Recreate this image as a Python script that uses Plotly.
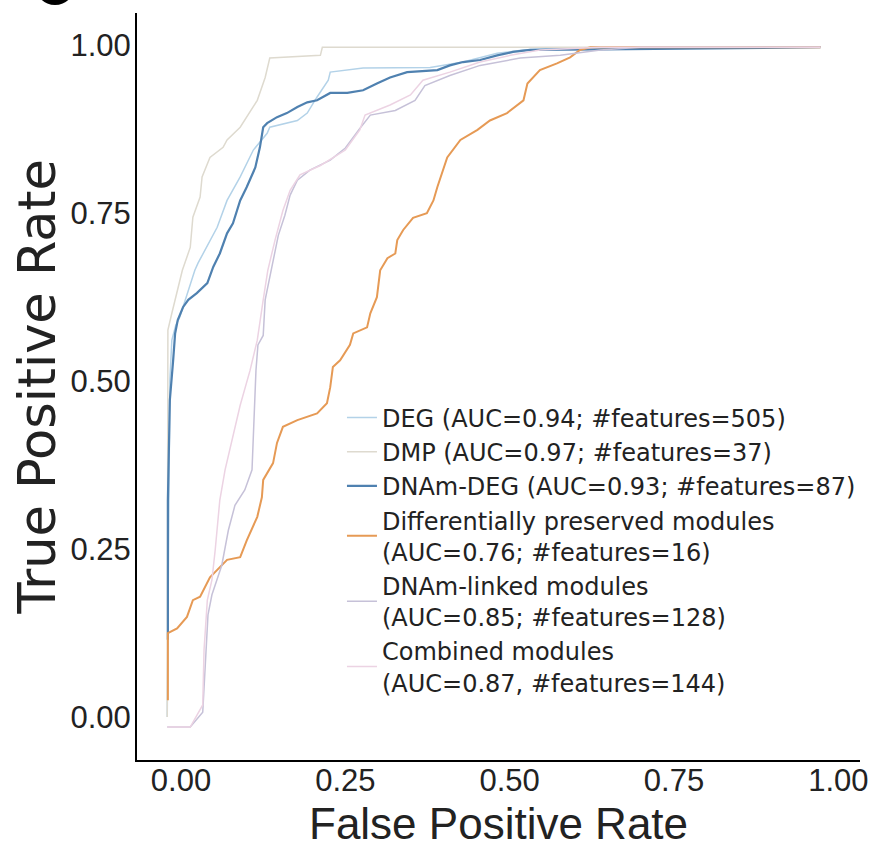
import plotly.graph_objects as go

# ROC curve readings (FPR, TPR) for each model
deg_fpr = [-0.021,-0.020,-0.018,-0.017,-0.014,-0.008,-0.002,0.009,0.021,0.026,0.040,0.055,0.070,0.090,0.110,0.131,0.135,0.177,0.192,0.207,0.224,0.227,0.277,0.344,0.379,0.429,0.481,0.521,0.577,0.699,0.973]
deg_tpr = [0.0,0.174,0.397,0.501,0.561,0.583,0.595,0.628,0.665,0.676,0.702,0.729,0.769,0.804,0.844,0.869,0.878,0.888,0.899,0.923,0.948,0.960,0.966,0.966,0.967,0.975,0.988,0.993,0.996,0.997,0.997]

dmp_fpr = [-0.021,-0.021,-0.020,-0.014,-0.006,0.002,0.014,0.018,0.029,0.032,0.044,0.064,0.070,0.090,0.116,0.128,0.135,0.212,0.215,0.973]
dmp_tpr = [0.0,0.397,0.576,0.601,0.635,0.665,0.699,0.744,0.774,0.804,0.833,0.848,0.859,0.878,0.918,0.952,0.981,0.985,0.997,0.997]

dnamdeg_fpr = [-0.020,-0.020,-0.020,-0.017,-0.014,-0.012,-0.009,-0.005,0.003,0.011,0.024,0.040,0.049,0.059,0.070,0.079,0.090,0.100,0.113,0.120,0.125,0.131,0.146,0.161,0.177,0.192,0.207,0.216,0.227,0.253,0.277,0.298,0.318,0.344,0.390,0.409,0.429,0.455,0.481,0.505,0.531,0.638,0.973]
dnamdeg_tpr = [0.115,0.149,0.323,0.472,0.516,0.531,0.571,0.591,0.610,0.621,0.631,0.646,0.670,0.690,0.720,0.735,0.769,0.789,0.818,0.848,0.878,0.884,0.893,0.899,0.908,0.915,0.918,0.923,0.929,0.929,0.933,0.943,0.952,0.960,0.963,0.970,0.975,0.978,0.985,0.990,0.993,0.994,0.997]

dpm_fpr = [-0.020,-0.020,-0.006,0.009,0.018,0.029,0.044,0.059,0.070,0.090,0.100,0.116,0.123,0.125,0.140,0.146,0.155,0.177,0.207,0.222,0.227,0.231,0.242,0.257,0.262,0.283,0.288,0.298,0.303,0.314,0.326,0.329,0.338,0.353,0.374,0.384,0.390,0.405,0.425,0.451,0.470,0.496,0.521,0.527,0.546,0.572,0.592,0.607,0.623,0.973]
dpm_tpr = [0.025,0.125,0.132,0.149,0.174,0.179,0.208,0.223,0.234,0.238,0.263,0.298,0.327,0.353,0.378,0.408,0.432,0.442,0.452,0.467,0.491,0.521,0.531,0.554,0.571,0.580,0.601,0.625,0.665,0.683,0.690,0.710,0.725,0.743,0.750,0.769,0.789,0.833,0.859,0.874,0.888,0.899,0.918,0.943,0.963,0.973,0.982,0.993,0.997,0.997]

linked_fpr = [-0.021,0.014,0.033,0.037,0.041,0.047,0.062,0.072,0.082,0.097,0.108,0.111,0.114,0.117,0.125,0.128,0.139,0.148,0.158,0.166,0.177,0.196,0.227,0.250,0.272,0.288,0.326,0.356,0.371,0.409,0.455,0.516,0.577,0.638,0.699,0.973]
linked_tpr = [-0.015,-0.015,0.007,0.085,0.152,0.182,0.226,0.278,0.315,0.338,0.368,0.442,0.516,0.554,0.568,0.621,0.673,0.717,0.747,0.777,0.799,0.814,0.829,0.847,0.876,0.896,0.903,0.918,0.940,0.955,0.970,0.981,0.985,0.993,0.997,0.997]

comb_fpr = [-0.021,0.014,0.033,0.035,0.040,0.047,0.052,0.059,0.067,0.078,0.090,0.105,0.116,0.125,0.132,0.143,0.155,0.166,0.181,0.212,0.250,0.272,0.280,0.318,0.349,0.368,0.409,0.455,0.501,0.546,0.638,0.973]
comb_tpr = [-0.015,-0.015,0.018,0.100,0.174,0.204,0.249,0.323,0.368,0.412,0.464,0.516,0.561,0.621,0.665,0.710,0.754,0.784,0.807,0.821,0.844,0.874,0.896,0.911,0.926,0.948,0.960,0.975,0.985,0.993,0.997,0.997]

names = [
    "DEG (AUC=0.94; #features=505)",
    "DMP (AUC=0.97; #features=37)",
    "DNAm-DEG (AUC=0.93; #features=87)",
    "Differentially preserved modules<br>(AUC=0.76; #features=16)",
    "DNAm-linked modules<br>(AUC=0.85; #features=128)",
    "Combined modules<br>(AUC=0.87, #features=144)",
]
xs = [deg_fpr, dmp_fpr, dnamdeg_fpr, dpm_fpr, linked_fpr, comb_fpr]
ys = [deg_tpr, dmp_tpr, dnamdeg_tpr, dpm_tpr, linked_tpr, comb_tpr]
colors = ["#b3d2e8", "#dedacf", "#4f81b0", "#e69a55", "#c6c1d8", "#ecd3e3"]
widths = [1.5, 1.5, 2.2, 2.0, 1.5, 1.5]

x_ticks = [0.0, 0.25, 0.5, 0.75, 1.0]
x_tick_labels = ["0.00", "0.25", "0.50", "0.75", "1.00"]
y_ticks = [0.0, 0.25, 0.5, 0.75, 1.0]
y_tick_labels = ["0.00", "0.25", "0.50", "0.75", "1.00"]

fig = go.Figure()
for x, y, n, c, w in zip(xs, ys, names, colors, widths):
    fig.add_trace(go.Scatter(x=x, y=y, mode="lines", name=n,
                             line=dict(color=c, width=w)))

FONT = "Liberation Sans, Arial, sans-serif"
fig.update_layout(
    width=873, height=844,
    margin=dict(l=137, r=13, t=13, b=84, autoexpand=False),
    paper_bgcolor="white", plot_bgcolor="white",
    font=dict(family=FONT, color="#222222"),
    showlegend=True,
    legend=dict(x=0.2835, y=0.488, xanchor="left", yanchor="top",
                bgcolor="rgba(0,0,0,0)",
                font=dict(family="DejaVu Sans, sans-serif", size=24, color="#222222"),
                tracegroupgap=0),
    xaxis=dict(range=[-0.067, 1.033], tickvals=x_ticks, ticktext=x_tick_labels,
               showgrid=False, zeroline=False, showline=True, linecolor="black",
               linewidth=2, ticks="", ticklen=0, tickfont=dict(size=31, color="#222222"),
               ticklabelstandoff=-8),
    yaxis=dict(range=[-0.064, 1.048], tickvals=y_ticks, ticktext=y_tick_labels,
               showgrid=False, zeroline=False, showline=True, linecolor="black",
               linewidth=2, ticks="", ticklen=0, tickfont=dict(size=31, color="#222222"),
               ticklabelstandoff=-2),
    annotations=[
        dict(text="False Positive Rate", x=0.5, y=-0.0845, xref="paper", yref="paper",
             xanchor="center", yanchor="middle", showarrow=False,
             font=dict(size=44, color="#222222")),
        dict(text="True Positive Rate", x=-0.137, y=0.50, xref="paper", yref="paper",
             xanchor="center", yanchor="middle", showarrow=False, textangle=-90,
             font=dict(family="DejaVu Sans, sans-serif", size=51, color="#222222")),
    ],
    shapes=[
        dict(type="circle", xref="paper", yref="paper",
             x0=-0.141, x1=-0.0858, y0=1.0107, y1=1.064,
             fillcolor="black", line=dict(color="black", width=0)),
    ],
)

fig.write_html("out.html")
